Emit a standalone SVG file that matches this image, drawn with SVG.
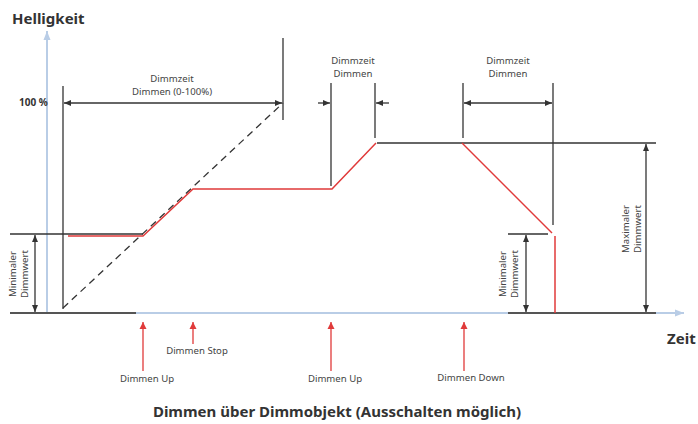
<svg xmlns="http://www.w3.org/2000/svg" width="698" height="424" viewBox="0 0 698 424">
<style>
.t{font-family:"Noto Sans","Open Sans",sans-serif;font-size:9.6px;fill:#444}
.b{font-family:"Noto Sans","Open Sans",sans-serif;font-weight:bold;fill:#333}
.k{stroke:#333;stroke-width:1.3;fill:none}
.r{stroke:#e03a3a;stroke-width:1.5;fill:none}
.ax{stroke:#b9cde6;stroke-width:2;fill:none}
.ra{stroke:#e03a3a;stroke-width:1.3;fill:none}
</style>
<defs>
<marker id="ah" markerWidth="8" markerHeight="8" refX="7" refY="4" orient="auto-start-reverse" markerUnits="userSpaceOnUse"><path d="M0,1 L7,4 L0,7 Z" fill="#333"/></marker>
<marker id="ahb" markerWidth="10" markerHeight="10" refX="9" refY="5" orient="auto" markerUnits="userSpaceOnUse"><path d="M0,1.5 L9,5 L0,8.5 Z" fill="#b9cde6"/></marker>
<marker id="ahr" markerWidth="8" markerHeight="8" refX="7" refY="4" orient="auto" markerUnits="userSpaceOnUse"><path d="M0,0.5 L7,4 L0,7.5 Z" fill="#e03a3a"/></marker>
</defs>
<g id="axes">
<line class="ax" x1="47" y1="313" x2="47" y2="31" marker-end="url(#ahb)"/>
<line class="ax" x1="10" y1="313" x2="684" y2="313" marker-end="url(#ahb)"/>
<line stroke="#555" stroke-width="2" x1="10" y1="313" x2="136" y2="313"/>
<line stroke="#555" stroke-width="2" x1="508" y1="313" x2="656" y2="313"/>
<text class="b" x="12" y="24" font-size="15">Helligkeit</text>
<text class="b" x="667" y="344" font-size="15">Zeit</text>
<text class="b" x="19" y="106" font-size="10">100 %</text>
</g>
<g id="connectors">
<line class="k" x1="63" y1="86" x2="63" y2="309"/>
<line class="k" x1="283" y1="38" x2="283" y2="120"/>
<line class="k" x1="64" y1="103" x2="282" y2="103" marker-start="url(#ah)" marker-end="url(#ah)"/>
<line stroke="#333" stroke-width="1.3" stroke-dasharray="7,5" x1="63" y1="308" x2="283" y2="103"/>
<line class="k" x1="10" y1="234" x2="143" y2="234"/>
<line class="k" x1="331" y1="83" x2="331" y2="186"/>
<line class="k" x1="375" y1="83" x2="375" y2="138"/>
<line class="k" x1="318" y1="103" x2="330" y2="103" marker-end="url(#ah)"/>
<line class="k" x1="389" y1="103" x2="376" y2="103" marker-end="url(#ah)"/>
<line class="k" x1="463" y1="83" x2="463" y2="138"/>
<line class="k" x1="553" y1="83" x2="553" y2="225"/>
<line class="k" x1="464" y1="103" x2="552" y2="103" marker-start="url(#ah)" marker-end="url(#ah)"/>
<line class="k" x1="377" y1="143" x2="656" y2="143"/>
<line class="k" x1="508" y1="234" x2="548" y2="234"/>
<line class="k" x1="35" y1="235" x2="35" y2="312" marker-start="url(#ah)" marker-end="url(#ah)"/>
<line class="k" x1="526" y1="235" x2="526" y2="312" marker-start="url(#ah)" marker-end="url(#ah)"/>
<line class="k" x1="646" y1="144" x2="646" y2="312" marker-start="url(#ah)" marker-end="url(#ah)"/>
<polyline class="r" points="68,236 143,236 193,189 332,189 376,143"/>
<polyline class="r" points="462,143 552,233"/>
<line class="r" x1="555" y1="236" x2="555" y2="313"/>
<line class="ra" x1="143" y1="371" x2="143" y2="322" marker-end="url(#ahr)"/>
<line class="ra" x1="193" y1="344" x2="193" y2="322" marker-end="url(#ahr)"/>
<line class="ra" x1="331" y1="371" x2="331" y2="322" marker-end="url(#ahr)"/>
<line class="ra" x1="464" y1="371" x2="464" y2="322" marker-end="url(#ahr)"/>
</g>
<g id="label-dimmzeit1">
<text class="t" text-anchor="middle" x="172" y="82">Dimmzeit</text>
<text class="t" text-anchor="middle" x="172" y="95">Dimmen (0-100%)</text>
</g>
<g id="label-dimmzeit2">
<text class="t" text-anchor="middle" x="353" y="64">Dimmzeit</text>
<text class="t" text-anchor="middle" x="353" y="77">Dimmen</text>
</g>
<g id="label-dimmzeit3">
<text class="t" text-anchor="middle" x="508" y="64">Dimmzeit</text>
<text class="t" text-anchor="middle" x="508" y="77">Dimmen</text>
</g>
<g id="label-min1">
<text class="t" text-anchor="middle" transform="translate(16,274) rotate(-90)">Minimaler</text>
<text class="t" text-anchor="middle" transform="translate(28,274) rotate(-90)">Dimmwert</text>
</g>
<g id="label-min2">
<text class="t" text-anchor="middle" transform="translate(506,274) rotate(-90)">Minimaler</text>
<text class="t" text-anchor="middle" transform="translate(518,274) rotate(-90)">Dimmwert</text>
</g>
<g id="label-max">
<text class="t" text-anchor="middle" transform="translate(629,229) rotate(-90)">Maximaler</text>
<text class="t" text-anchor="middle" transform="translate(641,229) rotate(-90)">Dimmwert</text>
</g>
<g id="label-events">
<text class="t" text-anchor="middle" x="147" y="382">Dimmen Up</text>
<text class="t" text-anchor="middle" x="197" y="354">Dimmen Stop</text>
<text class="t" text-anchor="middle" x="335" y="382">Dimmen Up</text>
<text class="t" text-anchor="middle" x="471" y="381">Dimmen Down</text>
</g>
<g id="title">
<text class="b" text-anchor="middle" x="337" y="417" font-size="15">Dimmen über Dimmobjekt (Ausschalten möglich)</text>
</g>
</svg>
